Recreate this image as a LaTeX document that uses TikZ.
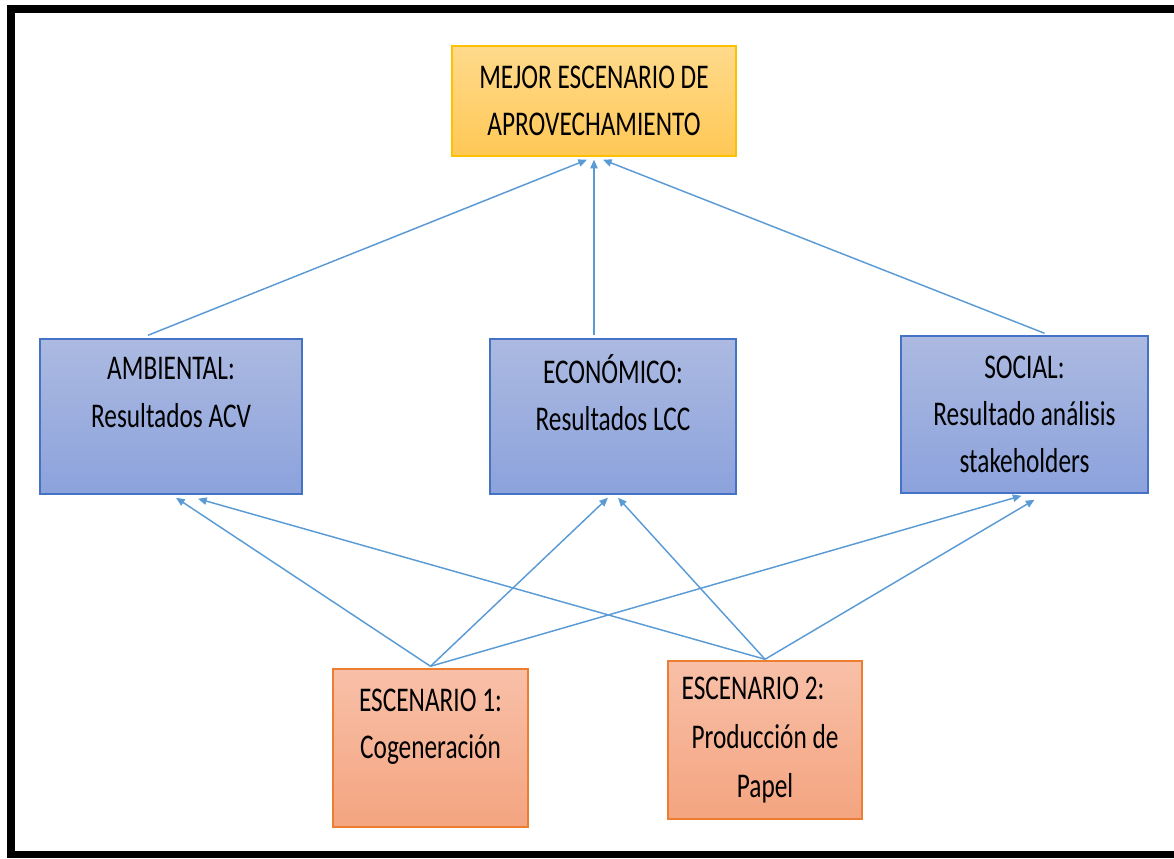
\documentclass[tikz,border=0pt]{standalone}
\usepackage{fontspec}
\setmainfont{Carlito}[FakeStretch=0.73]
\usetikzlibrary{arrows.meta,calc}

\definecolor{linkblue}{RGB}{91,155,213}
\definecolor{goalline}{RGB}{255,192,0}
\definecolor{goaltop}{RGB}{255,218,140}
\definecolor{goalbot}{RGB}{255,200,85}
\definecolor{critline}{RGB}{68,114,196}
\definecolor{crittop}{RGB}{172,186,225}
\definecolor{critbot}{RGB}{140,162,220}
\definecolor{scenline}{RGB}{237,125,49}
\definecolor{scentop}{RGB}{248,192,168}
\definecolor{scenbot}{RGB}{244,164,128}

\tikzset{
  box/.style={rectangle, align=center, inner sep=0pt, line width=1.1pt,
    font=\fontsize{26}{35.5}\selectfont},
  goalbox/.style={box, draw=goalline, top color=goaltop, bottom color=goalbot},
  critbox/.style={box, draw=critline, top color=crittop, bottom color=critbot},
  scenbox/.style={box, draw=scenline, top color=scentop, bottom color=scenbot},
  link/.style={draw=linkblue, line width=1.1pt,
    -{Triangle[length=6.5pt,width=5.5pt]}}
}

\begin{document}
\begin{tikzpicture}[x=0.75pt,y=-0.75pt]
\useasboundingbox (0,0) rectangle (1174,858);

% outer black frame (open on the right)
\fill[black] (7,5) rectangle (1174,13);
\fill[black] (7,5) rectangle (15,858);
\fill[black] (7,851) rectangle (1174,858);

% goal
\node[goalbox, minimum width=0.75*284pt, minimum height=0.75*110pt]
  (goal) at (594,101) {MEJOR ESCENARIO DE\\APROVECHAMIENTO};

% criteria
\node[critbox, minimum width=0.75*262pt, minimum height=0.75*155pt]
  (amb) at (171,416.5) {AMBIENTAL:\\Resultados ACV\\[-10pt] \strut};
\node[critbox, minimum width=0.75*246pt, minimum height=0.75*155pt]
  (eco) at (613,416.5) {ECONÓMICO:\\Resultados LCC\\[-10pt] \strut};
\node[critbox, minimum width=0.75*247pt, minimum height=0.75*157pt]
  (soc) at (1024.5,414.5) {SOCIAL:\\Resultado análisis\\stakeholders};

% scenarios
\node[scenbox, minimum width=0.75*195pt, minimum height=0.75*158pt]
  (esc1) at (430.5,748) {ESCENARIO 1:\\Cogeneración\\[-10pt] \strut};
\node[scenbox, minimum width=0.75*194pt, minimum height=0.75*158pt]
  (esc2) at (765,740) {ESCENARIO 2:\hspace*{18pt}\\[1pt] Producción de\\[1pt]Papel};

% criteria feed the goal
\draw[link] ($(amb.north)+(-23,-3)$) -- ($(goal.south)+(-7,3)$);
\draw[link] ($(eco.north)+(-19,-3)$) -- ($(goal.south)+(0,3)$);
\draw[link] ($(soc.north)+(20,-2)$) -- ($(goal.south)+(9,3)$);

% scenarios feed every criterion
\coordinate (s1) at ($(esc1.north)+(0,-2)$);
\coordinate (s2) at ($(esc2.north)+(0,-1)$);
\draw[link] (s1) -- ($(amb.south)+(5,3)$);
\draw[link] (s1) -- ($(eco.south)+(-5,3)$);
\draw[link] (s1) -- ($(soc.south)+(-3,2)$);
\draw[link] (s2) -- ($(amb.south)+(27,4)$);
\draw[link] (s2) -- ($(eco.south)+(5,3)$);
\draw[link] (s2) -- ($(soc.south)+(10,6)$);
\end{tikzpicture}
\end{document}
